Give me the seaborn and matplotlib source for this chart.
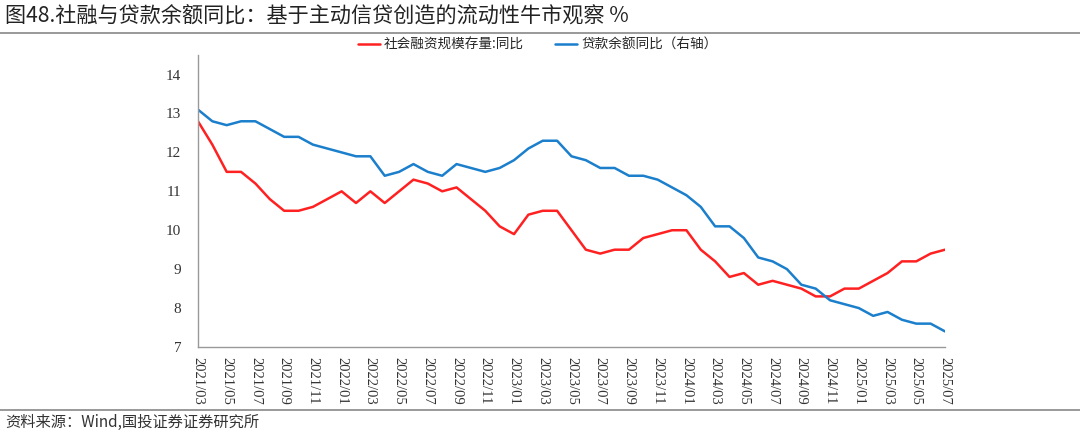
import matplotlib
matplotlib.use('Agg')
import matplotlib.pyplot as plt
import seaborn as sns
import pandas as pd
import numpy as np
from matplotlib.lines import Line2D

# monthly, 2021/03 .. 2025/07
months = pd.period_range("2021-03", "2025-07", freq="M").strftime("%Y/%m").tolist()

tsf_yoy = [12.8, 12.2, 11.5, 11.5, 11.2, 10.8, 10.5, 10.5, 10.6, 10.8,
           11.0, 10.7, 11.0, 10.7, 11.0, 11.3, 11.2, 11.0, 11.1, 10.8,
           10.5, 10.1, 9.9, 10.4, 10.5, 10.5, 10.0, 9.5, 9.4, 9.5,
           9.5, 9.8, 9.9, 10.0, 10.0, 9.5, 9.2, 8.8, 8.9, 8.6,
           8.7, 8.6, 8.5, 8.3, 8.3, 8.5, 8.5, 8.7, 8.9, 9.2,
           9.2, 9.4, 9.5]
loan_yoy = [13.1, 12.8, 12.7, 12.8, 12.8, 12.6, 12.4, 12.4, 12.2, 12.1,
            12.0, 11.9, 11.9, 11.4, 11.5, 11.7, 11.5, 11.4, 11.7, 11.6,
            11.5, 11.6, 11.8, 12.1, 12.3, 12.3, 11.9, 11.8, 11.6, 11.6,
            11.4, 11.4, 11.3, 11.1, 10.9, 10.6, 10.1, 10.1, 9.8, 9.3,
            9.2, 9.0, 8.6, 8.5, 8.2, 8.1, 8.0, 7.8, 7.9, 7.7,
            7.6, 7.6, 7.4]

label_tsf = "社会融资规模存量:同比"
label_loan = "贷款余额同比（右轴）"

df = pd.DataFrame({"month": months, "idx": np.arange(len(months)),
                   label_tsf: tsf_yoy, label_loan: loan_yoy})
long_df = df.melt(id_vars=["month", "idx"], var_name="series", value_name="yoy")

sns.set_style("white")
plt.rcParams['font.family'] = ['Noto Sans CJK SC', 'DejaVu Sans']

fig = plt.figure(figsize=(10.8, 4.34), dpi=100)
ax = fig.add_axes([0.1833, 0.2005, 0.875 - 0.1833, 0.873 - 0.2005])

sns.lineplot(data=long_df, x="idx", y="yoy", hue="series", ax=ax,
             palette={label_tsf: "#FF2121", label_loan: "#1B7FCC"},
             linewidth=1.8, legend=False)

ax.set_xlim(0, len(months) - 1)
ax.set_ylim(7, 14.5)
ax.set_yticks(range(7, 15))
ax.set_xticks(range(0, len(months), 2))
ax.set_xticklabels(months[::2], rotation=270, fontsize=10.5,
                   family='Liberation Serif', color='#333333')
for t in ax.get_yticklabels():
    t.set_family('Liberation Serif')
    t.set_fontsize(11)
    t.set_color('#333333')
ax.set_xlabel("")
ax.set_ylabel("")
for s in ["top", "right"]:
    ax.spines[s].set_visible(False)
for s in ["left", "bottom"]:
    ax.spines[s].set_color("#999999")
    ax.spines[s].set_linewidth(1)
ax.tick_params(axis="both", which="both", direction="out", length=4,
               width=1, color="#999999", pad=3)
ax.tick_params(axis="y", pad=8)

handles = [Line2D([], [], color="#FF2121", lw=1.8),
           Line2D([], [], color="#1B7FCC", lw=1.8)]
fig.legend(handles, [label_tsf, label_loan], loc="center",
           bbox_to_anchor=(0.498, 0.896), ncol=2, frameon=False,
           fontsize=9.8, handlelength=1.6, columnspacing=2.3, handletextpad=0.3)

fig.text(0.005, 0.962, "图48.社融与贷款余额同比：基于主动信贷创造的流动性牛市观察 %",
         fontsize=15.2, va="center", ha="left", color="#222222")
fig.add_artist(Line2D([0, 1], [0.925, 0.925], transform=fig.transFigure,
                      color="#888888", lw=1.2))
fig.add_artist(Line2D([0, 1], [0.055, 0.055], transform=fig.transFigure,
                      color="#888888", lw=1.2))
fig.text(0.005, 0.027, "资料来源：Wind,国投证券证券研究所", fontsize=11,
         style="italic", va="center", ha="left", color="#333333")

fig.savefig("out.png", dpi=100)
